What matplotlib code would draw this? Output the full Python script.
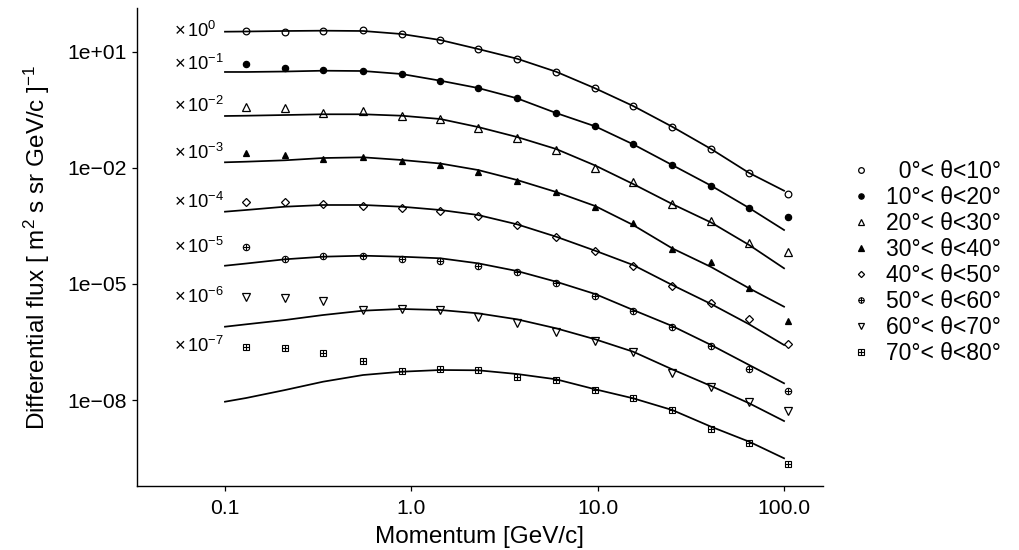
import matplotlib
matplotlib.use("Agg")
import matplotlib.pyplot as plt
import numpy as np
from matplotlib.lines import Line2D
from matplotlib.ticker import NullLocator

plt.rcParams["font.family"] = ["Liberation Sans", "DejaVu Sans"]
plt.rcParams["mathtext.fontset"] = "custom"
plt.rcParams["mathtext.rm"] = "Liberation Sans"
plt.rcParams["mathtext.it"] = "Liberation Sans:italic"
plt.rcParams["mathtext.bf"] = "Liberation Sans:bold"

# momentum bin centres of the measured points [GeV/c]
momentum = [0.13, 0.21, 0.336, 0.551, 0.886, 1.43, 2.28, 3.69, 5.98, 9.69,
            15.5, 25.1, 40.6, 65.0, 105.0]
fit_momentum = [0.1, 0.13, 0.21, 0.336, 0.551, 0.886, 1.43, 2.28, 3.69, 5.98,
                9.69, 15.5, 25.1, 40.6, 65.0, 100.0]

# log10 of the (unscaled) differential flux, one list per zenith band
pts_0 = [1.535, 1.517, 1.543, 1.561, 1.450, 1.302, 1.070, 0.819, 0.483, 0.054,
         -0.403, -0.938, -1.514, -2.142, -2.685]
pts_1 = [1.682, 1.571, 1.535, 1.509, 1.424, 1.251, 1.062, 0.796, 0.416, 0.072,
         -0.393, -0.928, -1.462, -2.039, -2.264]
pts_2 = [1.579, 1.538, 1.408, 1.476, 1.346, 1.261, 1.036, 0.778, 0.460, 0.003,
         -0.359, -0.935, -1.367, -1.935, -2.168]
pts_3 = [1.375, 1.331, 1.235, 1.287, 1.184, 1.080, 0.899, 0.659, 0.367, -0.005,
         -0.434, -1.098, -1.426, -2.114, -2.951]
pts_4 = [1.109, 1.124, 1.065, 1.013, 0.969, 0.892, 0.755, 0.522, 0.220, -0.142,
         -0.530, -1.046, -1.501, -1.915, -2.553]
pts_5 = [0.946, 0.643, 0.729, 0.721, 0.643, 0.600, 0.463, 0.315, 0.016, -0.305,
         -0.700, -1.106, -1.597, -2.207, -2.767]
pts_6 = [0.654, 0.643, 0.566, 0.326, 0.344, 0.326, 0.137, -0.003, -0.235, -0.468,
         -0.767, -1.294, -1.656, -2.059, -2.284]
pts_7 = [0.377, 0.336, 0.222, 0.008, -0.243, -0.207, -0.225, -0.398, -0.483, -0.742,
         -0.940, -1.258, -1.749, -2.103, -2.661]

# log10 of the fitted flux at fit_momentum
fit_0 = [1.517, 1.522, 1.535, 1.543, 1.535, 1.457, 1.302, 1.070, 0.819, 0.483,
         0.054, -0.403, -0.938, -1.514, -2.134, -2.592]
fit_1 = [1.476, 1.476, 1.488, 1.509, 1.501, 1.424, 1.251, 1.062, 0.796, 0.416,
         0.072, -0.393, -0.928, -1.462, -2.039, -2.607]
fit_2 = [1.339, 1.346, 1.364, 1.383, 1.383, 1.346, 1.261, 1.054, 0.796, 0.486,
         0.060, -0.419, -0.935, -1.413, -1.995, -2.597]
fit_3 = [1.142, 1.158, 1.194, 1.253, 1.271, 1.202, 1.111, 0.943, 0.685, 0.375,
         0.013, -0.478, -1.080, -1.563, -2.114, -2.589]
fit_4 = [0.866, 0.910, 0.995, 1.039, 1.039, 0.995, 0.910, 0.780, 0.540, 0.220,
         -0.142, -0.512, -1.028, -1.519, -2.044, -2.579]
fit_5 = [0.470, 0.527, 0.636, 0.703, 0.729, 0.703, 0.662, 0.532, 0.333, 0.057,
         -0.261, -0.674, -1.088, -1.579, -2.096, -2.568]
fit_6 = [-0.106, -0.044, 0.067, 0.196, 0.308, 0.352, 0.326, 0.240, 0.085, -0.147,
         -0.431, -0.752, -1.207, -1.638, -2.085, -2.543]
fit_7 = [-1.044, -0.948, -0.742, -0.527, -0.354, -0.269, -0.225, -0.232, -0.328, -0.465,
         -0.723, -0.956, -1.258, -1.690, -2.077, -2.506]

# each band is shifted down by 10^-k for display
scale_exp = [0, -1, -2, -3, -4, -5, -6, -7]

band_labels = ["  0°< θ<10°", "10°< θ<20°", "20°< θ<30°", "30°< θ<40°",
               "40°< θ<50°", "50°< θ<60°", "60°< θ<70°", "70°< θ<80°"]

all_pts = [pts_0, pts_1, pts_2, pts_3, pts_4, pts_5, pts_6, pts_7]
all_fits = [fit_0, fit_1, fit_2, fit_3, fit_4, fit_5, fit_6, fit_7]

# marker style per band: list of (marker, filled, size, edge width)
styles = [
    [("o", False, 4.8, 0.9)],
    [("o", True, 4.5, 0.9)],
    [("^", False, 5.2, 0.9)],
    [("^", True, 5.0, 0.9)],
    [("D", False, 3.7, 0.9)],
    [("o", False, 4.6, 0.8), ("+", False, 4.6, 0.8)],
    [("v", False, 5.2, 0.9)],
    [("s", False, 4.6, 0.8), ("+", False, 4.6, 0.8)],
]

fig = plt.figure(figsize=(10.19, 5.5), dpi=100)
ax = fig.add_axes([0.13415, 0.11636, 0.6735, 0.86909])

handles = []
for i in range(8):
    k = scale_exp[i]
    y_pts = 10 ** (np.array(all_pts[i]) + k)
    y_fit = 10 ** (np.array(all_fits[i]) + k)
    ax.plot(fit_momentum, y_fit, color="black", lw=1.25, zorder=2)
    parts = []
    for marker, filled, ms, mew in styles[i]:
        ax.plot(momentum, y_pts, ls="none", marker=marker, ms=ms, mew=mew,
                mec="black", mfc="black" if filled else "none", zorder=3)
        parts.append(Line2D([], [], ls="none", marker=marker, ms=ms * 0.85, mew=mew,
                            mec="black", mfc="black" if filled else "none"))
    handles.append(tuple(parts) if len(parts) > 1 else parts[0])

    ax.annotate(r"$\times\,10^{%d}$" % k, xy=(0.0532, y_pts[0]), xytext=(0, -4),
                textcoords="offset points", ha="left", va="baseline", fontsize=13.2)

ax.set_xscale("log")
ax.set_yscale("log")
ax.set_xlim(0.0336, 161.8)
ax.set_ylim(10 ** -10.222, 10 ** 2.129)

ax.set_xticks([0.1, 1, 10, 100], ["0.1", "1.0", "10.0", "100.0"])
ax.set_yticks([1e1, 1e-2, 1e-5, 1e-8], ["1e+01", "1e\u221202", "1e\u221205", "1e\u221208"])
ax.xaxis.set_minor_locator(NullLocator())
ax.yaxis.set_minor_locator(NullLocator())
ax.tick_params(axis="both", direction="out", length=3.6, width=0.9, labelsize=15.2)
ax.tick_params(axis="x", pad=5.5)
ax.tick_params(axis="y", pad=3.6)

for side in ["top", "right"]:
    ax.spines[side].set_visible(False)
for side in ["left", "bottom"]:
    ax.spines[side].set_linewidth(1.0)

ax.set_xlabel("Momentum [GeV/c]", fontsize=17.5)
ax.set_ylabel(r"Differential flux [ m$^{2}$ s sr GeV/c ]$^{-1}$", fontsize=17.5)
ax.xaxis.set_label_coords(0.5, -0.083)
ax.yaxis.set_label_coords(-0.1234, 0.5)

fig.legend(handles, band_labels, loc="center left",
           bbox_to_anchor=(849.5 / 1019, 0.522), bbox_transform=fig.transFigure,
           frameon=False, fontsize=16.5, handlelength=1.0, handletextpad=0.59,
           labelspacing=0.13, borderpad=0, borderaxespad=0)

fig.savefig("out.png", dpi=100)
